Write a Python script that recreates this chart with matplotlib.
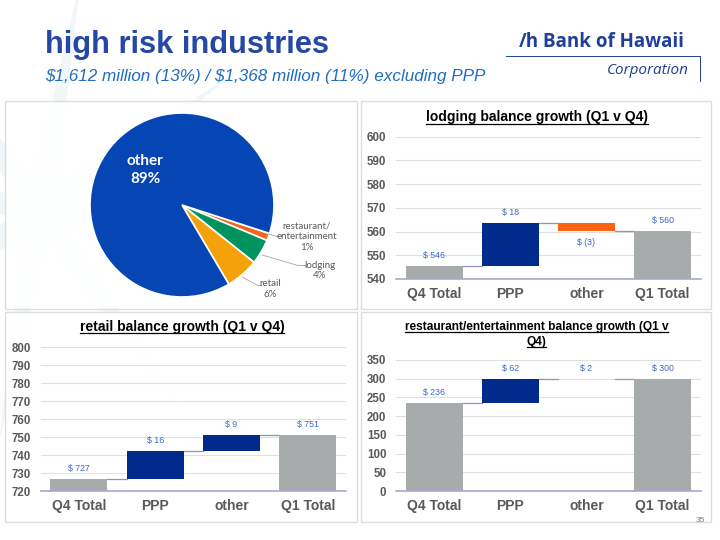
import numpy as np
import matplotlib.pyplot as plt
from matplotlib.patches import Rectangle, Polygon

plt.rcParams['font.family'] = ['Liberation Sans', 'DejaVu Sans']
plt.rcParams['text.parse_math'] = False

W, H = 720, 540

# pie data (share of loans, %)
pie_labels = ['restaurant/\nentertainment', 'lodging', 'retail', 'other']
pie_values = [1.3, 4.4, 5.8, 88.5]
pie_pct = ['1%', '4%', '6%', '89%']
pie_colors = ['#f26522', '#00935f', '#f5a20a', '#0546b4']

# waterfall data ($ millions): Q4 total, PPP, other
steps = ['Q4 Total', 'PPP', 'other', 'Q1 Total']
lodging_vals = [545.6, 17.9, -3.2]
retail_vals = [726.7, 15.8, 8.9]
restaurant_vals = [236.3, 62.0, 1.9]

GRAY = '#a7abac'
NAVY = '#002b8c'
ORANGE = '#ff6312'
TXT = '#595959'
LBL = '#3a66c8'


def fig_rect(x0, y0, x1, y1):
    # pixel box (top-left origin) -> figure fraction
    return [x0 / W, 1 - y1 / H, (x1 - x0) / W, (y1 - y0) / H]


def fmt(v):
    r = int(round(v))
    return '$ (%d)' % -r if r < 0 else '$ %d' % r


def underlined_title(fig, x, y, text, size=10):
    t = fig.text(x / W, 1 - y / H, text, ha='center', va='center',
                 fontsize=size, fontweight='bold', color='black', zorder=5)
    fig.canvas.draw()
    bb = t.get_window_extent()
    fig.add_artist(plt.Line2D([bb.x0 / W, bb.x1 / W], [(bb.y0 + 1) / H] * 2,
                              color='black', lw=0.9, zorder=5))


def waterfall(ax, vals, ylim, yticks):
    q1 = sum(vals)
    x = np.arange(4)
    bottoms = [0, vals[0], vals[0] + vals[1], 0]
    heights = [vals[0], vals[1], vals[2], q1]
    colors = [GRAY] + [NAVY if v >= 0 else ORANGE for v in vals[1:]] + [GRAY]
    bw = 0.75
    for i in range(4):
        b, h = bottoms[i], heights[i]
        if i in (0, 3):
            b = ylim[0]
            h = heights[i] - ylim[0]
        ax.bar(x[i], h, bw, bottom=b, color=colors[i], zorder=3)
    # connector lines
    levels = [vals[0], vals[0] + vals[1], q1]
    for i in range(3):
        ax.plot([x[i] + bw / 2, x[i + 1] - bw / 2], [levels[i]] * 2,
                color='#8c96b8', lw=0.9, zorder=2)
    # data labels
    tops = [vals[0], vals[0] + vals[1], vals[0] + vals[1] + vals[2], q1]
    for i in range(4):
        v = heights[i]
        if i in (1, 2) and vals[i] < 0:
            y, off = tops[i], -8.5
        else:
            y, off = max(bottoms[i], bottoms[i] + heights[i]), 7.5
        ax.annotate(fmt(v), (x[i], y), xytext=(0, off), textcoords='offset points',
                    ha='center', va='center', fontsize=6.3, color=LBL)
    ax.set_xlim(-0.5, 3.5)
    ax.set_ylim(*ylim)
    ax.set_yticks(yticks)
    ax.set_xticks(x)
    ax.set_xticklabels(steps, fontsize=10, fontweight='bold', color=TXT)
    ax.tick_params(axis='y', labelsize=8.3, labelcolor=TXT, length=0, pad=7)
    for lab in ax.get_yticklabels():
        lab.set_fontweight('bold')
    ax.tick_params(axis='x', length=0, pad=6)
    ax.grid(axis='y', color='#e0e0e0', lw=0.8, zorder=0)
    for s in ('top', 'right', 'left'):
        ax.spines[s].set_visible(False)
    ax.spines['bottom'].set_color('#a3abcb')
    ax.spines['bottom'].set_linewidth(1.2)
    ax.spines['bottom'].set_zorder(4)
    ax.set_facecolor('none')


fig = plt.figure(figsize=(7.2, 5.4), dpi=100)

# faint decorative star in the background
bg = fig.add_axes([0, 0, 1, 1], zorder=-5)
bg.set_xlim(0, W)
bg.set_ylim(H, 0)
bg.axis('off')
cx, cy = 40, 210
for k in range(8):
    a = np.deg2rad(k * 45 + 10)
    tip = (cx + 240 * np.cos(a), cy + 240 * np.sin(a))
    l = (cx + 25 * np.cos(a + 0.5), cy + 25 * np.sin(a + 0.5))
    r = (cx + 25 * np.cos(a - 0.5), cy + 25 * np.sin(a - 0.5))
    bg.add_patch(Polygon([l, tip, r, (cx, cy)], closed=True,
                         color='#f1f7f9', lw=0))

# panels
for x0, y0, x1, y1 in [(5, 101, 357, 309), (361, 101, 711, 309),
                       (5, 312, 357, 522), (361, 312, 711, 522)]:
    fig.add_artist(Rectangle((x0 / W, 1 - y1 / H), (x1 - x0) / W, (y1 - y0) / H,
                             transform=fig.transFigure, facecolor='white',
                             alpha=0.88, edgecolor='#d9d9d9', lw=1, zorder=-2))

# header
fig.text(45 / W, 1 - 45 / H, 'high risk industries', fontsize=22.2, fontweight='bold',
         color='#2548a4', va='center')
fig.text(45 / W, 1 - 77 / H, '$1,612 million (13%) / $1,368 million (11%) excluding PPP',
         fontsize=12.3, style='italic', color='#1f6dc0', va='center')

# logo
fig.text(543 / W, 1 - 42 / H, 'Bank of Hawaii', fontsize=13.5, fontweight='bold',
         color='#1f3f99', va='center', family=['Open Sans', 'DejaVu Sans'])
fig.text(519 / W, 1 - 42 / H, '/h', fontsize=13.5, fontweight='bold',
         color='#1f3f99', va='center', family=['Open Sans', 'DejaVu Sans'])
fig.text(689 / W, 1 - 70 / H, 'Corporation', fontsize=11, style='italic',
         color='#1f3f99', va='center', ha='right', family=['Open Sans', 'DejaVu Sans'])
fig.add_artist(plt.Line2D([506 / W, 700 / W], [1 - 56 / H] * 2, color='#1f3f99', lw=0.7))
fig.add_artist(plt.Line2D([700 / W, 700 / W], [1 - 56 / H, 1 - 81 / H], color='#1f3f99', lw=0.7))

# pie
pax = fig.add_axes(fig_rect(90, 113, 274, 297))
pax.pie(pie_values, colors=pie_colors, startangle=-18, counterclock=False,
        radius=1, wedgeprops=dict(edgecolor='white', lw=1.2))
pax.set_xlim(-1, 1)
pax.set_ylim(-1, 1)
pax.text(-0.40, 0.38, 'other\n' + pie_pct[3], ha='center', va='center', color='white',
         fontsize=11, fontweight='bold', family=['Lato', 'DejaVu Sans'], linespacing=1.3)


def px2d(px, py):
    return ((px - 182) / 92, -(py - 205) / 92)


pie_text_pos = [(307, 236.5), (320, 270.5), (270, 289)]
pie_leaders = [[(268, 234), (279, 237)],
               [(262, 255), (298, 265.5), (306, 265.5)],
               [(242, 277), (258, 285.5), (262, 285.5)]]
for i in range(3):
    tx, ty = px2d(*pie_text_pos[i])
    pax.text(tx, ty, pie_labels[i] + '\n' + pie_pct[i], ha='center', va='center',
             fontsize=7, color=TXT, family=['Lato', 'DejaVu Sans'], linespacing=1.25)
    pts = [px2d(*p) for p in pie_leaders[i]]
    pax.plot([p[0] for p in pts], [p[1] for p in pts], color='#a6a6a6', lw=0.6,
             clip_on=False)

# waterfalls
ax1 = fig.add_axes(fig_rect(396, 136.7, 700.7, 279))
waterfall(ax1, lodging_vals, (540, 600), range(540, 601, 10))
ax2 = fig.add_axes(fig_rect(40.7, 347.3, 346, 491))
waterfall(ax2, retail_vals, (720, 800), range(720, 801, 10))
ax3 = fig.add_axes(fig_rect(396, 360, 700.7, 491))
waterfall(ax3, restaurant_vals, (0, 350), range(0, 351, 50))

underlined_title(fig, 537, 117.5, 'lodging balance growth (Q1 v Q4)')
underlined_title(fig, 182, 327, 'retail balance growth (Q1 v Q4)')
underlined_title(fig, 536.5, 326.7, 'restaurant/entertainment balance growth (Q1 v', size=8.6)
underlined_title(fig, 536.5, 341.7, 'Q4)', size=8.6)

fig.text(700 / W, 1 - 521 / H, '35', fontsize=6, color='#7f7f7f', ha='center', va='center')

fig.savefig('out.png', dpi=100)
